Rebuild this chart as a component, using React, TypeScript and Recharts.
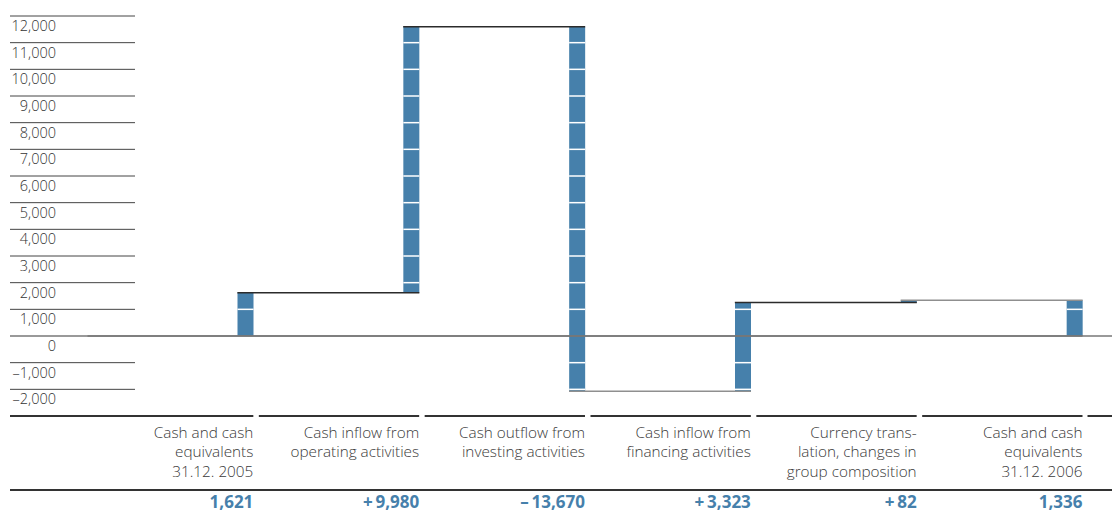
import React from "react";
import { ComposedChart, Bar, XAxis, YAxis, ReferenceLine } from "recharts";

const CATEGORIES = ["open2005", "operating", "investing", "financing", "currency", "close2006"];
const CATEGORY_LINES = [
  ["Cash and cash", "equivalents", "31.12. 2005"],
  ["Cash inflow from", "operating activities"],
  ["Cash outflow from", "investing activities"],
  ["Cash inflow from", "financing activities"],
  ["Currency trans-", "lation, changes in", "group composition"],
  ["Cash and cash", "equivalents", "31.12. 2006"],
];
const VALUES = [1621, 9980, -13670, 3323, 82, 1336];
const IS_TOTAL = [true, false, false, false, false, true];
const VALUE_LABELS = ["1,621", "+\u20099,980", "\u2013\u200913,670", "+\u20093,323", "+\u200982", "1,336"];
const Y_TICKS = [-2000, -1000, 0, 1000, 2000, 3000, 4000, 5000, 6000, 7000, 8000, 9000, 10000, 11000, 12000];

// style arrays (not data)
const CONNECTOR_COLORS = ["#2b2b2b", "#2b2b2b", "#8f8f8f", "#2b2b2b", "#8f8f8f"];

const W = 1112;
const H = 512;
const PLOT_LEFT = 87.5;
const PLOT_RIGHT = 1082.5;
const PLOT_TOP = 16;
const PLOT_BOTTOM = 416;
const BAND = (PLOT_RIGHT - PLOT_LEFT) / CATEGORIES.length;
const BAR_W = 16;
const BAR_COLOR = "#4680ab";
const FONT = "'Open Sans', Roboto, 'DejaVu Sans', sans-serif";

// build waterfall ranges
let running = 0;
const ends: number[] = [];
const data = CATEGORIES.map((name, i) => {
  let low: number;
  let high: number;
  if (IS_TOTAL[i]) {
    low = 0;
    high = VALUES[i];
    running = VALUES[i];
  } else {
    const start = running;
    running = start + VALUES[i];
    low = Math.min(start, running);
    high = Math.max(start, running);
  }
  ends.push(running);
  return { name, range: [low, high], low, high };
});

const BarShape = (props: any) => {
  const { x, y, width, height, payload, index } = props;
  const top = Math.min(y, y + height);
  const h = Math.abs(height);
  const low = payload.low;
  const high = payload.high;
  const k = high - low !== 0 ? h / (high - low) : 0;
  const bx = x + width - BAR_W;
  const whiteLines: React.ReactNode[] = [];
  for (let m = Math.ceil(low / 1000); m * 1000 <= high; m++) {
    const v = m * 1000;
    if (v === 0 || v <= low || v >= high) continue;
    const py = top + (high - v) * k;
    whiteLines.push(
      <line key={m} x1={bx} x2={bx + BAR_W} y1={py} y2={py} stroke="#ffffff" strokeWidth={1.5} />
    );
  }
  let connector: React.ReactNode = null;
  if (index > 0) {
    const startVal = ends[index - 1];
    const py = k > 0 ? top + (high - startVal) * k : top;
    connector = (
      <line
        x1={bx - width}
        x2={bx + BAR_W}
        y1={py}
        y2={py}
        stroke={CONNECTOR_COLORS[index - 1]}
        strokeWidth={1.5}
      />
    );
  }
  return (
    <g>
      <rect x={bx} y={top} width={BAR_W} height={Math.max(h, 1)} fill={BAR_COLOR} />
      {whiteLines}
      {connector}
    </g>
  );
};

const fmtY = (v: number) => {
  const s = Math.abs(v).toLocaleString("en-US");
  return v < 0 ? "\u2013" + s : s;
};

const YTick = (props: any) => {
  const { y, payload } = props;
  const v = payload.value;
  return (
    <g>
      <line
        x1={10}
        x2={v === 0 ? W : 135}
        y1={y}
        y2={y}
        stroke={v === 0 ? "#777" : "#444"}
        strokeWidth={v === 0 ? 1.5 : 1}
      />
      <text x={56} y={y + 15} textAnchor="end" fontSize={14.5} fill="#333" fontFamily={FONT} fontWeight={300}>
        {fmtY(v)}
      </text>
    </g>
  );
};

const XTick = (props: any) => {
  const { x, y, index } = props;
  const right = x + BAND / 2;
  const left = index === 0 ? 10 : x - BAND / 2 + 5.5;
  const lines = CATEGORY_LINES[index] || [];
  return (
    <g>
      <line x1={left} x2={right} y1={y} y2={y} stroke="#333" strokeWidth={2} />
      {index === CATEGORIES.length - 1 && (
        <line x1={right + 5} x2={W} y1={y} y2={y} stroke="#333" strokeWidth={2} />
      )}
      {index === 0 && <line x1={10} x2={W} y1={y + 74} y2={y + 74} stroke="#333" strokeWidth={2} />}
      {lines.map((t: string, i: number) => (
        <text
          key={i}
          x={right}
          y={y + 21.5 + i * 19.5}
          textAnchor="end"
          fontSize={15.3}
          fill="#3a3a3a"
          fontFamily={FONT}
          fontWeight={300}
        >
          {t}
        </text>
      ))}
      <text
        x={right}
        y={y + 91.5}
        textAnchor="end"
        fontSize={17}
        fill={BAR_COLOR}
        fontFamily={FONT}
        fontWeight={700}
      >
        {VALUE_LABELS[index]}
      </text>
    </g>
  );
};

export default function App() {
  return (
    <div style={{ position: "absolute", left: 0, top: 0, width: W, height: H, background: "#fff" }}>
      <ComposedChart
        width={W}
        height={H}
        data={data}
        margin={{ top: PLOT_TOP, right: W - PLOT_RIGHT, bottom: 0, left: 0 }}
        barCategoryGap={0}
      >
        <XAxis
          dataKey="name"
          type="category"
          interval={0}
          axisLine={false}
          tickLine={false}
          tickSize={0}
          tickMargin={0}
          height={H - PLOT_BOTTOM}
          tick={<XTick />}
        />
        <YAxis
          type="number"
          domain={[-3000, 12000]}
          ticks={Y_TICKS}
          interval={0}
          width={PLOT_LEFT}
          axisLine={false}
          tickLine={false}
          tick={<YTick />}
          allowDataOverflow
        />
        <Bar dataKey="range" shape={<BarShape />} isAnimationActive={false} />
        <ReferenceLine y={0} stroke="#777" strokeWidth={1.5} />
      </ComposedChart>
    </div>
  );
}
